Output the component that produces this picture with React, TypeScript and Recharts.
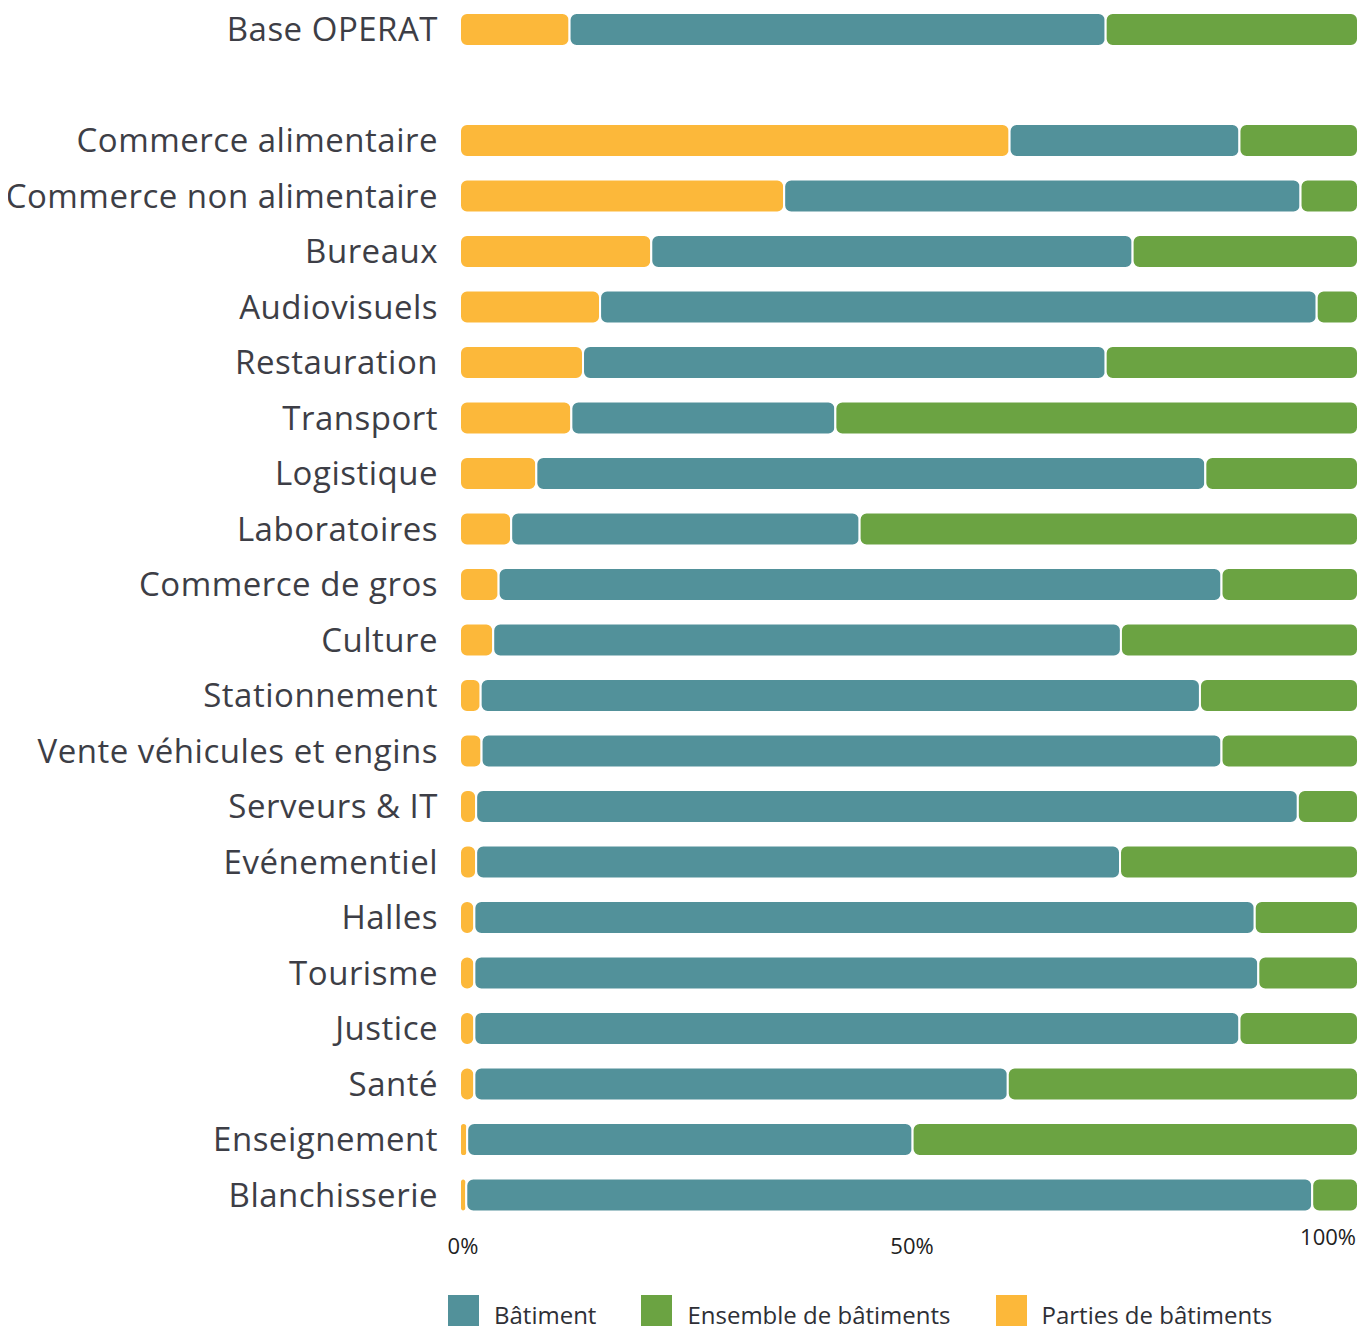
import React from 'react';
import { BarChart, Bar, XAxis, YAxis, Legend } from 'recharts';

const categories = [
  'Base OPERAT', '', 'Commerce alimentaire', 'Commerce non alimentaire', 'Bureaux', 'Audiovisuels',
  'Restauration', 'Transport', 'Logistique', 'Laboratoires', 'Commerce de gros', 'Culture',
  'Stationnement', 'Vente véhicules et engins ', 'Serveurs & IT', 'Evénementiel', 'Halles',
  'Tourisme', 'Justice', 'Santé', 'Enseignement', 'Blanchisserie',
];
const parties = [12.2, null, 61.2, 36.1, 21.3, 15.6, 13.7, 12.4, 8.5, 5.7, 4.3, 3.7, 2.3, 2.4, 1.8, 1.8, 1.6, 1.6, 1.6, 1.6, 0.8, 0.7];
const batiment = [59.7, null, 25.6, 57.5, 53.6, 79.8, 58.2, 29.4, 74.5, 38.8, 80.5, 69.9, 80.1, 82.4, 91.5, 71.7, 86.9, 87.3, 85.2, 59.4, 49.6, 94.2];
const ensemble = [28.1, null, 13.2, 6.4, 25.1, 4.6, 28.1, 58.2, 17.0, 55.5, 15.2, 26.4, 17.6, 15.2, 6.7, 26.5, 11.5, 11.1, 13.2, 39.0, 49.6, 5.1];
const xTicks = [0, 50, 100];

const data = categories.map((name, i) => ({
  name,
  parties: parties[i],
  batiment: batiment[i],
  ensemble: ensemble[i],
}));

const FONT = '"Open Sans", Lato, sans-serif';
const TEXT = '#3d3e46';

const legendItems = [
  { key: 'batiment', label: 'Bâtiment', color: '#52919a' },
  { key: 'ensemble', label: 'Ensemble de bâtiments', color: '#6ba342' },
  { key: 'parties', label: 'Parties de bâtiments', color: '#fcb83a' },
];

const XTick = (props: any) => {
  const { x, y, payload } = props;
  const last = payload.value === 100;
  return (
    <text
      x={last ? x - 2 : x + 3}
      y={last ? y - 8 : y + 1}
      dy="0.71em"
      textAnchor={last ? 'end' : 'middle'}
      fill="#222"
      fontSize={22}
      fontFamily={FONT}
    >
      {payload.value}%
    </text>
  );
};

const LegendContent = () => (
  <div style={{ height: 70, display: 'flex', alignItems: 'flex-start', paddingLeft: 440, paddingTop: 32, boxSizing: 'border-box', fontFamily: FONT }}>
    {legendItems.map((it) => (
      <div key={it.key} style={{ display: 'flex', alignItems: 'flex-start', marginRight: 45 }}>
        <div style={{ width: 31, height: 31, background: it.color }} />
        <span style={{ marginLeft: 15, marginTop: 8, fontSize: 24, color: '#2e2f36', lineHeight: '24px', whiteSpace: 'nowrap' }}>{it.label}</span>
      </div>
    ))}
  </div>
);

export default function App() {
  return (
    <div style={{ position: 'relative', top: -6 }}>
      <BarChart
        width={1360}
        height={1331}
        data={data}
        layout="vertical"
        margin={{ top: 0, right: 10, bottom: 0, left: 0 }}
        barSize={33}
      >
        <XAxis
          type="number"
          domain={[0, 100]}
          ticks={xTicks}
          axisLine={false}
          tickLine={false}
          tickSize={0}
          tickMargin={14}
          height={40}
          tick={<XTick />}
          interval={0}
        />
        <YAxis
          type="category"
          dataKey="name"
          width={452}
          axisLine={false}
          tickLine={false}
          tickSize={0}
          tickMargin={22}
          interval={0}
          tick={{ fontSize: 33, fill: TEXT, fontFamily: FONT, letterSpacing: 0.5 }}
        />
        <Legend verticalAlign="bottom" content={<LegendContent />} />
        <Bar dataKey="parties" stackId="a" fill="#fcb83a" stroke="#fff" strokeWidth={2} radius={7} isAnimationActive={false} />
        <Bar dataKey="batiment" stackId="a" fill="#52919a" stroke="#fff" strokeWidth={2} radius={7} isAnimationActive={false} />
        <Bar dataKey="ensemble" stackId="a" fill="#6ba342" stroke="#fff" strokeWidth={2} radius={7} isAnimationActive={false} />
      </BarChart>
    </div>
  );
}
